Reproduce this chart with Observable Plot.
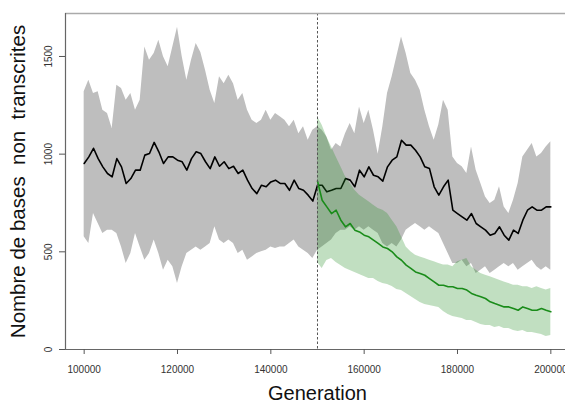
<!DOCTYPE html>
<html><head><meta charset="utf-8">
<script src="https://cdn.jsdelivr.net/npm/d3@7"></script>
<script src="https://cdn.jsdelivr.net/npm/@observablehq/plot@0.6"></script>
<style>
html,body{margin:0;padding:0;background:#fff;}
#chart svg{display:block;}
</style>
</head><body><div id="chart"></div>
<script>
// Sampling grid (every 1000 generations)
const generations = d3.range(100000, 200001, 1000);

// Whole run (grey band + black mean)
const meanAll = [952, 986, 1030, 977, 935, 901, 884, 977, 935, 850, 875, 918, 918, 995, 1003, 1060, 1012, 952, 986, 986, 969, 961, 918, 977, 1012,
  1003, 961, 926, 986, 938, 961, 926, 938, 901, 918, 867, 824, 798, 841, 833, 858, 867, 850, 850, 815, 867, 824, 815, 790, 760, 841,
  841, 807, 815, 824, 824, 875, 867, 833, 918, 884, 935, 892, 884, 862, 935, 969, 986, 1071, 1046, 1046, 1020, 986, 935, 926, 833, 790,
  833, 867, 713, 696, 679, 662, 696, 645, 628, 611, 585, 594, 628, 585, 560, 611, 594, 662, 713, 730, 713, 713, 730, 730];
const upperAll = [1319, 1378, 1310, 1319, 1225, 1208, 1131, 1353, 1336, 1276, 1310, 1225, 1276, 1549, 1481, 1515, 1583, 1498, 1447, 1549, 1650, 1500, 1378, 1481, 1566,
  1520, 1430, 1327, 1259, 1396, 1361, 1404, 1361, 1276, 1310, 1225, 1174, 1157, 1174, 1225, 1174, 1208, 1191, 1174, 1140, 1174, 1105, 1140, 1071, 1122, 1140,
  1122, 1088, 1020, 1054, 1037, 1105, 1157, 1105, 1242, 1157, 1225, 1122, 1000, 1140, 1310, 1396, 1498, 1600, 1515, 1413, 1378, 1327, 1225, 1140, 1071, 1150,
  1276, 1225, 986, 952, 935, 901, 1037, 918, 850, 781, 747, 764, 833, 730, 696, 764, 850, 986, 1020, 1054, 986, 1003, 1037, 1063];
const lowerAll = [577, 543, 696, 645, 594, 611, 611, 594, 525, 440, 491, 594, 525, 457, 491, 560, 491, 406, 457, 423, 338, 423, 491, 508, 525,
  508, 525, 543, 628, 560, 543, 560, 543, 491, 508, 457, 474, 491, 500, 508, 525, 517, 525, 525, 543, 560, 525, 508, 491, 466, 508,
  525, 543, 560, 594, 611, 611, 628, 611, 628, 611, 628, 611, 594, 543, 525, 543, 525, 560, 611, 628, 645, 628, 611, 628, 611, 594,
  543, 491, 440, 440, 457, 423, 440, 389, 406, 423, 389, 406, 423, 440, 423, 440, 406, 423, 440, 457, 423, 406, 423, 406];

// After the split (green band + green mean), from generation 150000
const meanGreen = [862, 764, 730, 696, 713, 662, 628, 645, 611, 602, 585, 577, 560, 543, 525, 517, 500, 474, 457, 432, 415, 397, 389, 380, 363, 346, 329,
  329, 321, 321, 312, 312, 304, 287, 278, 270, 261, 244, 235, 227, 218, 218, 210, 201, 218, 210, 201, 201, 210, 201, 193];
const upperGreen = [1191, 1148, 1088, 1037, 986, 935, 884, 850, 815, 790, 773, 756, 739, 722, 713, 696, 662, 628, 577, 525, 500, 483, 474, 466, 457, 449, 440,
  432, 432, 423, 449, 457, 466, 423, 406, 389, 380, 372, 363, 355, 346, 338, 329, 329, 321, 321, 312, 321, 312, 304, 312];
const lowerGreen = [445, 415, 455, 466, 445, 430, 415, 404, 394, 384, 374, 363, 363, 348, 338, 333, 322, 307, 302, 287, 271, 256, 241, 230, 225, 220, 215,
  194, 179, 169, 164, 159, 148, 148, 138, 128, 123, 123, 113, 118, 107, 107, 97, 92, 97, 87, 87, 82, 77, 67, 72];

const splitGeneration = 150000;
const xTicks = [100000, 120000, 140000, 160000, 180000, 200000];
const yTicks = [0, 500, 1000, 1500];
const xLabel = "Generation";
const yLabel = "Nombre de bases\u00a0 non\u00a0 transcrites";
const xDomain = [96000, 203143];
const yDomain = [0, 1720];

const all = generations.map((g, i) => ({g, mean: meanAll[i], lo: lowerAll[i], hi: upperAll[i]}));
const greenGens = generations.filter(g => g >= splitGeneration);
const green = greenGens.map((g, i) => ({g, mean: meanGreen[i], lo: lowerGreen[i], hi: upperGreen[i]}));

const chart = Plot.plot({
  width: 565, height: 405,
  marginLeft: 65, marginRight: 0, marginTop: 13, marginBottom: 56,
  x: {domain: xDomain},
  y: {domain: yDomain},
  style: {fontFamily: "'Liberation Sans', Arial, Helvetica, sans-serif", background: "#fff", overflow: "visible"},
  marks: [
    Plot.areaY(all, {x: "g", y1: "lo", y2: "hi", fill: "#bebebe"}),
    Plot.lineY(all, {x: "g", y: "mean", stroke: "#000", strokeWidth: 1.6}),
    Plot.areaY(green, {x: "g", y1: "lo", y2: "hi", fill: "#228B22", fillOpacity: 0.28}),
    Plot.lineY(green, {x: "g", y: "mean", stroke: "#1a8c1a", strokeWidth: 1.6}),
    Plot.ruleX([splitGeneration], {stroke: "#555", strokeDasharray: "2.5,2", strokeWidth: 1}),
    Plot.ruleY([yDomain[1]], {stroke: "#aaa", strokeWidth: 1.4}),
    Plot.ruleX([xDomain[0]], {stroke: "#666", strokeWidth: 1.2}),
    Plot.ruleY([yDomain[0]], {stroke: "#666", strokeWidth: 1.2}),
    Plot.axisX({ticks: xTicks, tickSize: 5, tickPadding: 11, tickFormat: d => String(d), fontSize: 10, stroke: "#555", fill: "#333", label: null}),
    Plot.axisY({ticks: yTicks, tickSize: 6, tickFormat: () => "", stroke: "#555", label: null}),
    Plot.text(yTicks, {y: d => d, text: d => String(d), frameAnchor: "left", dx: -17, rotate: -90, fontSize: 10, fill: "#333", textAnchor: "middle", lineAnchor: "middle"}),
    Plot.text([xLabel], {text: d => d, frameAnchor: "bottom", dx: 2, dy: 44, fontSize: 20, fill: "#111", textAnchor: "middle", lineAnchor: "middle"}),
    Plot.text([yLabel], {text: d => d, frameAnchor: "left", dx: -47, rotate: -90, fontSize: 20.5, fill: "#111", textAnchor: "middle", lineAnchor: "middle"})
  ]
});
document.getElementById("chart").appendChild(chart);
</script>
</body></html>
